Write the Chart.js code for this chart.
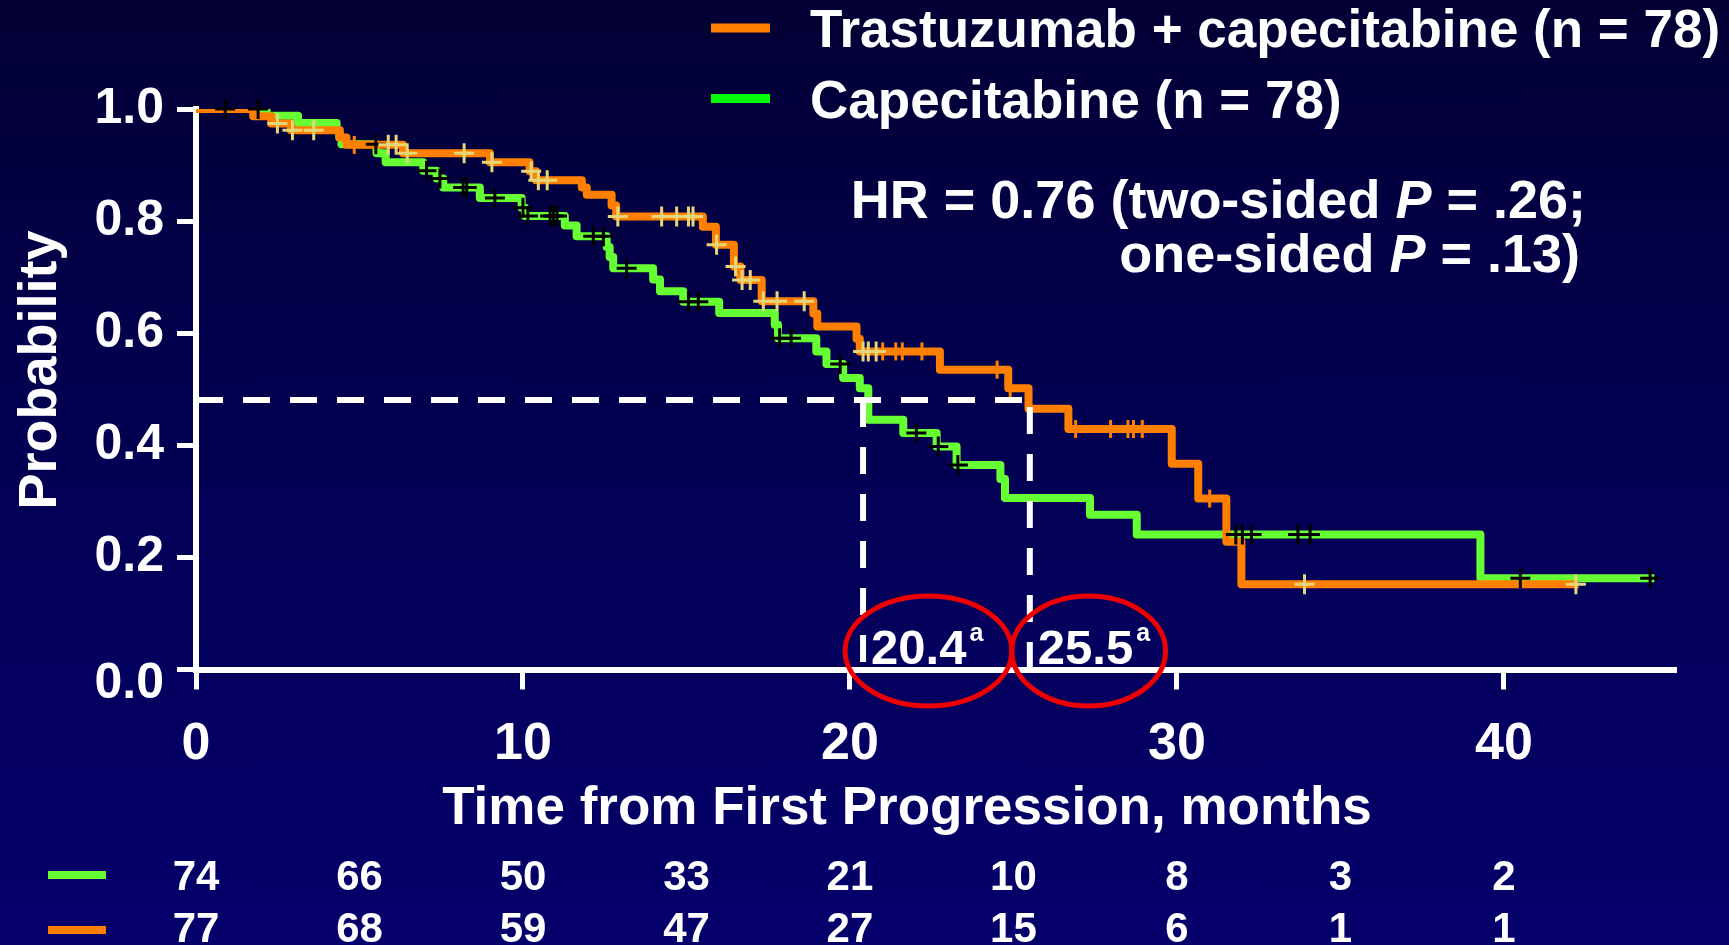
<!DOCTYPE html>
<html>
<head>
<meta charset="utf-8">
<script src="https://cdn.jsdelivr.net/npm/chart.js@4.4.0/dist/chart.umd.min.js"></script>
<style>
  html, body { margin: 0; padding: 0; }
  body { width: 1729px; height: 945px; overflow: hidden;
         background: linear-gradient(to bottom, #020033 0%, #03004c 35%, #04005e 70%, #05006b 100%); }
  #wrap { position: relative; width: 1729px; height: 945px; }
</style>
</head>
<body>
<div id="wrap"><canvas id="c"></canvas></div>
<script>
// ---------------- data ----------------
const xTicks = [0, 10, 20, 30, 40];
const yTicks = [0, 0.2, 0.4, 0.6, 0.8, 1.0];

const seriesNames = ['Trastuzumab + capecitabine (n = 78)', 'Capecitabine (n = 78)'];

// Trastuzumab + capecitabine (orange) KM step times / survival after step
const orangeT = [0, 1.75, 2.3, 2.9, 4.4, 4.6, 6.33, 8.99, 10.2, 10.4, 11.8, 11.95, 12.71, 12.85, 15.5, 15.9, 16.45, 16.65, 17.3, 18.88, 19.0, 20.2, 20.3, 22.75, 24.84, 25.46, 26.68, 29.84, 30.65, 31.51, 31.97, 42.28];
const orangeS = [1.0, 0.987, 0.974, 0.962, 0.949, 0.936, 0.921, 0.905, 0.889, 0.873, 0.86, 0.847, 0.828, 0.808, 0.79, 0.758, 0.719, 0.695, 0.657, 0.635, 0.612, 0.59, 0.5675, 0.535, 0.502, 0.465, 0.429, 0.367, 0.305, 0.228, 0.152, 0.152];

// Capecitabine (green)
const greenT = [0, 2.16, 3.12, 4.3, 4.38, 4.45, 5.52, 5.8, 6.95, 7.36, 7.56, 8.68, 9.96, 10.06, 11.28, 11.64, 12.56, 12.65, 12.76, 13.98, 14.19, 14.9, 16.0, 17.7, 17.8, 18.97, 19.28, 19.79, 20.3, 20.56, 21.63, 22.65, 23.26, 24.6, 24.74, 27.34, 28.77, 39.28, 44.6];
const greenS = [1.0, 0.988, 0.975, 0.962, 0.949, 0.937, 0.921, 0.905, 0.89, 0.876, 0.86, 0.841, 0.824, 0.809, 0.792, 0.773, 0.754, 0.736, 0.716, 0.696, 0.675, 0.656, 0.636, 0.615, 0.591, 0.5675, 0.545, 0.52, 0.502, 0.4455, 0.422, 0.398, 0.365, 0.34, 0.306, 0.276, 0.241, 0.163, 0.163];

// censoring times
const greenCensT = [0.89, 1.9, 5.5, 7.05, 7.46, 8.17, 8.28, 9.14, 10.0, 10.15, 10.83, 10.93, 11.04, 12.15, 12.46, 13.17, 15.06, 15.36, 17.85, 18.2, 19.7, 22.03, 22.7, 23.3, 31.8, 32.0, 32.28, 33.7, 34.07, 40.5, 44.47];
const orangeCensT = [2.49, 2.95, 3.6, 5.88, 6.12, 6.46, 8.2, 9.05, 10.25, 10.47, 10.74, 12.9, 14.24, 14.7, 15.06, 15.2, 15.92, 16.5, 16.7, 16.95, 17.35, 17.77, 18.6, 20.4, 20.56, 20.8, 33.9, 42.2];
const orangeTickT = [4.84, 21.0, 21.4, 21.6, 22.2, 24.5, 24.9, 26.9, 27.97, 28.5, 28.67, 28.94, 31.0];

// medians
const medianLevel = 0.481;
const medianTimes = [20.4, 25.5];
const medianLabels = ['20.4', '25.5'];

// numbers at risk
const riskTimes = [0, 5, 10, 15, 20, 25, 30, 35, 40];
const riskGreen = [74, 66, 50, 33, 21, 10, 8, 3, 2];
const riskOrange = [77, 68, 59, 47, 27, 15, 6, 1, 1];

const hrLine1 = ['HR = 0.76 (two-sided ', 'P', ' = .26;'];
const hrLine2 = ['one-sided ', 'P', ' = .13)'];

// ---------------- helpers ----------------
function pts(T, S) { return T.map((t, i) => ({ x: t, y: S[i] })); }
function survAt(T, S, t) { let v = S[0]; for (let i = 0; i < T.length; i++) { if (T[i] <= t) v = S[i]; else break; } return v; }
function censPts(times, T, S) { return times.map(t => ({ x: t, y: survAt(T, S, t) })); }

const ORANGE = '#ff8000', GREEN = '#66ff33', PALE = '#e6d67a';
const FONT = '"Liberation Sans", Arial, Helvetica, sans-serif';

const overlay = {
  id: 'overlay',
  afterDatasetsDraw(chart) {
    const ctx = chart.ctx, xs = chart.scales.x, ys = chart.scales.y;
    ctx.save();
    ctx.fillStyle = '#fff';
    // y title
    ctx.save();
    ctx.translate(41, 370);
    ctx.rotate(-Math.PI / 2);
    ctx.font = 'bold 54px ' + FONT;
    ctx.textAlign = 'center'; ctx.textBaseline = 'middle';
    ctx.fillText('Probability', 0, 0);
    ctx.restore();
    // x title
    ctx.font = 'bold 53px ' + FONT;
    ctx.textAlign = 'center'; ctx.textBaseline = 'alphabetic';
    ctx.fillText('Time from First Progression, months', 907, 824);

    // legend
    const legColors = [ORANGE, '#00ff00'];
    const legY = [28, 98.5];
    ctx.font = 'bold 53px ' + FONT;
    ctx.textAlign = 'left';
    seriesNames.forEach((n, i) => {
      ctx.fillStyle = legColors[i];
      ctx.fillRect(711, legY[i] - 4.5, 59, 9);
      ctx.fillStyle = '#fff';
      ctx.fillText(n, 810, legY[i] + 19);
    });

    // HR text (right aligned, italic P)
    function runs(parts, right, base) {
      const fonts = ['bold 54px ' + FONT, 'italic bold 54px ' + FONT, 'bold 54px ' + FONT];
      let w = 0;
      parts.forEach((p, i) => { ctx.font = fonts[i]; w += ctx.measureText(p).width; });
      let x = right - w;
      ctx.textAlign = 'left';
      parts.forEach((p, i) => { ctx.font = fonts[i]; ctx.fillText(p, x, base); x += ctx.measureText(p).width; });
    }
    ctx.fillStyle = '#fff';
    runs(hrLine1, 1586, 218);
    runs(hrLine2, 1580, 272);

    // median labels & ellipses
    const y0 = ys.getPixelForValue(0);
    medianTimes.forEach((t, i) => {
      const px = xs.getPixelForValue(t);
      ctx.font = 'bold 49px ' + FONT;
      ctx.textAlign = 'left';
      ctx.fillStyle = '#fff';
      ctx.fillText(medianLabels[i], px + 8, y0 - 6);
      const w = ctx.measureText(medianLabels[i]).width;
      ctx.font = 'bold 25px ' + FONT;
      ctx.fillText('a', px + 8 + w + 3, y0 - 29);
    });
    const ell = [{ cx: 22.4, rx: 2.55 }, { cx: 27.3, rx: 2.35 }];
    ctx.strokeStyle = '#ee0000';
    ctx.lineWidth = 5;
    ell.forEach(e => {
      const cx = xs.getPixelForValue(e.cx);
      const rx = xs.getPixelForValue(e.cx + e.rx) - cx;
      const cy = ys.getPixelForValue(0.033);
      const ry = ys.getPixelForValue(0.033) - ys.getPixelForValue(0.131);
      ctx.beginPath();
      ctx.ellipse(cx, cy, rx, ry, 0, 0, Math.PI * 2);
      ctx.stroke();
    });

    // numbers at risk
    ctx.font = 'bold 42px ' + FONT;
    ctx.textAlign = 'center';
    ctx.fillStyle = '#fff';
    riskTimes.forEach((t, i) => {
      const px = xs.getPixelForValue(t);
      ctx.fillText(String(riskGreen[i]), px, 890);
      ctx.fillText(String(riskOrange[i]), px, 942);
    });
    ctx.fillStyle = GREEN; ctx.fillRect(48, 871, 58, 8);
    ctx.fillStyle = ORANGE; ctx.fillRect(48, 926, 58, 8);
    ctx.restore();
  }
};

Chart.defaults.font.family = FONT;
Chart.defaults.font.weight = 'bold';
Chart.defaults.color = '#fff';

new Chart(document.getElementById('c'), {
  type: 'line',
  data: {
    datasets: [
      { label: seriesNames[0], data: pts(orangeT, orangeS), stepped: 'before', borderColor: ORANGE, borderWidth: 8,
        borderJoinStyle: 'round', pointRadius: 0, fill: false, order: 5 },
      { label: seriesNames[1], data: pts(greenT, greenS), stepped: 'before', borderColor: GREEN, borderWidth: 8,
        borderJoinStyle: 'round', pointRadius: 0, fill: false, order: 6 },
      { label: 'median', data: [{ x: 0, y: medianLevel }, { x: medianTimes[1], y: medianLevel }], borderColor: '#fff',
        borderWidth: 6, borderDash: [27, 20], pointRadius: 0, fill: false, order: 3 },
      { label: 'median1', data: [{ x: medianTimes[0], y: medianLevel }, { x: medianTimes[0], y: 0 }], borderColor: '#fff',
        borderWidth: 6, borderDash: [27, 20], pointRadius: 0, fill: false, order: 3 },
      { label: 'median2', data: [{ x: medianTimes[1], y: medianLevel }, { x: medianTimes[1], y: 0 }], borderColor: '#fff',
        borderWidth: 6, borderDash: [27, 20], borderDashOffset: -7, pointRadius: 0, fill: false, order: 3 },
      { label: 'cens green', data: censPts(greenCensT, greenT, greenS), showLine: false, pointStyle: 'cross',
        pointRadius: 10, pointBorderWidth: 3, pointBorderColor: '#000', borderColor: '#000', order: 1, clip: false },
      { label: 'cens orange', data: censPts(orangeCensT, orangeT, orangeS), showLine: false, pointStyle: 'cross',
        pointRadius: 10, pointBorderWidth: 3, pointBorderColor: PALE, borderColor: PALE, order: 0, clip: false },
      { label: 'ticks orange', data: censPts(orangeTickT, orangeT, orangeS), showLine: false, pointStyle: 'line',
        pointRotation: 90, pointRadius: 9, pointBorderWidth: 3, pointBorderColor: ORANGE, borderColor: ORANGE, order: 0, clip: false }
    ]
  },
  options: {
    responsive: true, maintainAspectRatio: false, animation: false, devicePixelRatio: 1,
    events: [],
    layout: { padding: { top: 109, right: 55, left: 0, bottom: 0 } },
    plugins: { legend: { display: false }, tooltip: { enabled: false } },
    scales: {
      x: {
        type: 'linear', min: 0, max: 45.2,
        afterBuildTicks: s => { s.ticks = xTicks.map(v => ({ value: v })); },
        afterFit: s => { s.height = 275.5; },
        ticks: { color: '#fff', font: { size: 52, weight: 'bold' }, padding: 24, maxRotation: 0, autoSkip: false,
                 callback: v => String(v) },
        grid: { drawOnChartArea: false, drawTicks: true, tickLength: 20, tickWidth: 5, tickColor: '#fff', lineWidth: 5, color: '#fff' },
        border: { display: true, color: '#fff', width: 6 }
      },
      y: {
        type: 'linear', min: 0, max: 1,
        afterBuildTicks: s => { s.ticks = yTicks.map(v => ({ value: v })); },
        afterFit: s => { s.width = 196; },
        ticks: { color: '#fff', padding: 13, autoSkip: false,
                 font: c => (c.tick && c.tick.value === 0) ? { size: 50, weight: 'bold', lineHeight: 0.6 } : { size: 50, weight: 'bold' },
                 callback: v => (v === 0 ? ['', Number(v).toFixed(1)] : Number(v).toFixed(1)) },
        grid: { drawOnChartArea: false, drawTicks: true, tickLength: 19, tickWidth: 5, tickColor: '#fff', lineWidth: 5, color: '#fff' },
        border: { display: true, color: '#fff', width: 6 }
      }
    }
  },
  plugins: [overlay]
});
</script>
</body>
</html>
